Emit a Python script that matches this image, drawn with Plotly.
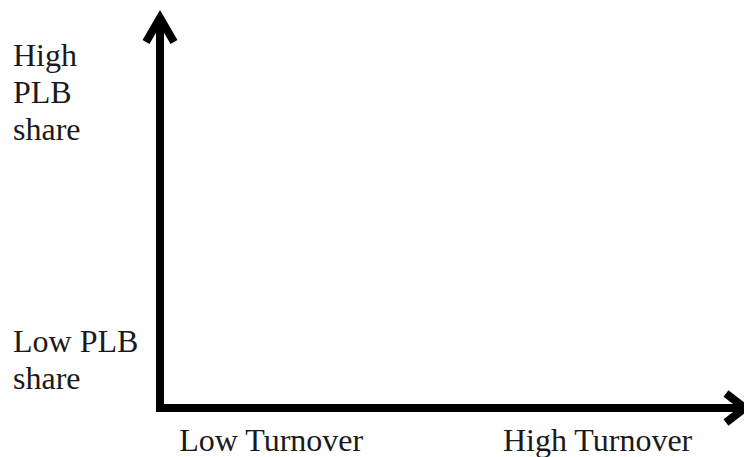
import plotly.graph_objects as go

# Conceptual diagram: axis labels (no numeric data)
x_labels = ["Low Turnover", "High Turnover"]
x_label_pos = [0.190, 0.748]
y_label_lines = [["Low PLB", "share"], ["High", "PLB", "share"]]
y_label_pos = [0.124, 0.809]

FONT = "Liberation Serif, Times New Roman, serif"
TXT = "#1a1a1a"
LW = 8
LINE_GAP = 37  # px between text lines

fig = go.Figure()
fig.add_trace(go.Scatter(x=[0, 1], y=[0, 1], mode="markers",
                         marker=dict(opacity=0), hoverinfo="skip", showlegend=False))

shapes = [
    # horizontal axis shaft (starts at left edge of the vertical shaft)
    dict(type="line", xref="paper", yref="paper", x0=-0.0068, y0=0, x1=1, y1=0,
         line=dict(color="black", width=LW)),
    # vertical axis shaft (starts at bottom edge of horizontal shaft)
    dict(type="line", xref="paper", yref="paper", x0=0, y0=-0.0103, x1=0, y1=1,
         line=dict(color="black", width=LW)),
    # chevron heads (pixel-sized, anchored at shaft ends)
    dict(type="path", xref="paper", yref="paper", xsizemode="pixel", ysizemode="pixel",
         xanchor=1, yanchor=0, path="M-19,14.5 L0,0 L-19,-14.5",
         line=dict(color="black", width=LW)),
    dict(type="path", xref="paper", yref="paper", xsizemode="pixel", ysizemode="pixel",
         xanchor=0, yanchor=1, path="M-14,-24 L0,0 L14,-24",
         line=dict(color="black", width=LW)),
]

annotations = []
for lines, yp in zip(y_label_lines, y_label_pos):
    n = len(lines)
    for i, line in enumerate(lines):
        annotations.append(dict(x=-0.2547, y=yp, xref="paper", yref="y", text=line,
                                showarrow=False, xanchor="left", yanchor="middle", align="left",
                                yshift=((n - 1) / 2 - i) * LINE_GAP,
                                font=dict(family=FONT, size=32, color=TXT)))

fig.update_layout(
    width=752, height=457,
    margin=dict(l=152, r=15, t=10, b=57, autoexpand=False),
    paper_bgcolor="white", plot_bgcolor="white",
    shapes=shapes,
    annotations=annotations,
    xaxis=dict(range=[0, 1], showgrid=False, zeroline=False, showline=False, automargin=False,
               tickvals=x_label_pos, ticktext=x_labels, ticks="",
               tickfont=dict(family=FONT, size=32, color=TXT), ticklabelstandoff=10),
    yaxis=dict(range=[0, 1], showgrid=False, zeroline=False, showline=False, automargin=False,
               showticklabels=False),
    showlegend=False,
)

fig.write_html("out.html")
